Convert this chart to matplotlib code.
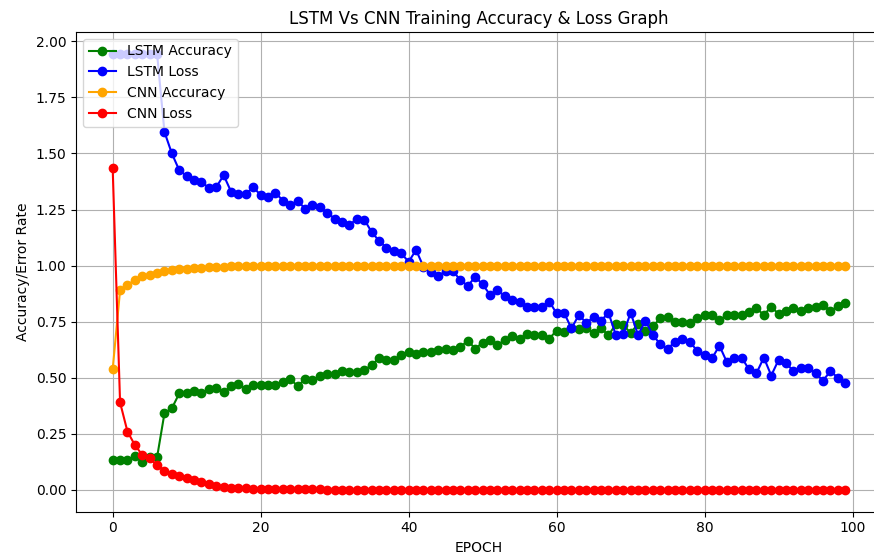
import matplotlib
matplotlib.use("Agg")
import matplotlib.pyplot as plt

# ── Values (epochs 0..99) ───────────────────────────────────────────────────
epochs = list(range(100))

lstm_acc = [
    0.134, 0.134, 0.134, 0.151, 0.126, 0.147, 0.145, 0.342, 0.364, 0.430,
    0.430, 0.440, 0.430, 0.450, 0.455, 0.435, 0.462, 0.470, 0.450, 0.466,
    0.466, 0.466, 0.466, 0.480, 0.494, 0.463, 0.494, 0.490, 0.508, 0.517,
    0.517, 0.530, 0.525, 0.525, 0.534, 0.557, 0.587, 0.580, 0.580, 0.600,
    0.616, 0.606, 0.616, 0.616, 0.624, 0.627, 0.624, 0.638, 0.665, 0.630,
    0.656, 0.670, 0.646, 0.668, 0.686, 0.675, 0.693, 0.690, 0.690, 0.675,
    0.710, 0.705, 0.720, 0.716, 0.720, 0.700, 0.720, 0.690, 0.738, 0.735,
    0.700, 0.740, 0.710, 0.730, 0.765, 0.770, 0.750, 0.750, 0.745, 0.765,
    0.780, 0.780, 0.757, 0.780, 0.780, 0.780, 0.794, 0.810, 0.780, 0.817,
    0.784, 0.797, 0.810, 0.797, 0.810, 0.817, 0.824, 0.797, 0.820, 0.834,
]

lstm_loss = [
    1.945, 1.945, 1.945, 1.945, 1.945, 1.945, 1.945, 1.596, 1.500, 1.425,
    1.400, 1.380, 1.373, 1.347, 1.350, 1.403, 1.330, 1.320, 1.320, 1.350,
    1.314, 1.305, 1.325, 1.290, 1.270, 1.290, 1.253, 1.270, 1.260, 1.235,
    1.210, 1.195, 1.180, 1.210, 1.205, 1.150, 1.110, 1.080, 1.066, 1.055,
    1.017, 1.070, 0.995, 0.970, 0.955, 0.975, 0.975, 0.935, 0.910, 0.950,
    0.916, 0.870, 0.890, 0.864, 0.846, 0.840, 0.817, 0.817, 0.817, 0.840,
    0.787, 0.790, 0.720, 0.780, 0.745, 0.770, 0.754, 0.790, 0.690, 0.695,
    0.790, 0.690, 0.754, 0.690, 0.650, 0.630, 0.660, 0.675, 0.660, 0.620,
    0.600, 0.587, 0.643, 0.570, 0.590, 0.590, 0.537, 0.520, 0.590, 0.510,
    0.580, 0.565, 0.530, 0.545, 0.545, 0.520, 0.487, 0.530, 0.500, 0.475,
]

cnn_acc = [
    0.537, 0.890, 0.915, 0.935, 0.955, 0.960, 0.965, 0.975, 0.982, 0.985,
    0.986, 0.988, 0.990, 0.993, 0.995, 0.996, 0.998, 0.998, 0.999, 0.999,
    1.000, 1.000, 1.000, 1.000, 1.000, 1.000, 1.000, 1.000, 1.000, 1.000,
    1.000, 1.000, 1.000, 1.000, 1.000, 1.000, 1.000, 1.000, 1.000, 1.000,
    1.000, 1.000, 1.000, 1.000, 1.000, 1.000, 1.000, 1.000, 1.000, 1.000,
    1.000, 1.000, 1.000, 1.000, 1.000, 1.000, 1.000, 1.000, 1.000, 1.000,
    1.000, 1.000, 1.000, 1.000, 1.000, 1.000, 1.000, 1.000, 1.000, 1.000,
    1.000, 1.000, 1.000, 1.000, 1.000, 1.000, 1.000, 1.000, 1.000, 1.000,
    1.000, 1.000, 1.000, 1.000, 1.000, 1.000, 1.000, 1.000, 1.000, 1.000,
    1.000, 1.000, 1.000, 1.000, 1.000, 1.000, 1.000, 1.000, 1.000, 1.000,
]

cnn_loss = [
    1.435, 0.390, 0.260, 0.200, 0.156, 0.140, 0.110, 0.086, 0.072, 0.060,
    0.053, 0.042, 0.033, 0.025, 0.018, 0.015, 0.010, 0.008, 0.007, 0.006,
    0.005, 0.005, 0.004, 0.004, 0.003, 0.003, 0.002, 0.002, 0.002, 0.001,
    0.001, 0.001, 0.001, 0.001, 0.001, 0.001, 0.001, 0.001, 0.001, 0.001,
    0.001, 0.001, 0.001, 0.001, 0.001, 0.001, 0.001, 0.001, 0.001, 0.001,
    0.000, 0.000, 0.000, 0.000, 0.000, 0.000, 0.000, 0.000, 0.000, 0.000,
    0.000, 0.000, 0.000, 0.000, 0.000, 0.000, 0.000, 0.000, 0.000, 0.000,
    0.000, 0.000, 0.000, 0.000, 0.000, 0.000, 0.000, 0.000, 0.000, 0.000,
    0.000, 0.000, 0.000, 0.000, 0.000, 0.000, 0.000, 0.000, 0.000, 0.000,
    0.000, 0.000, 0.000, 0.000, 0.000, 0.000, 0.000, 0.000, 0.000, 0.000,
]

# ── Plot ────────────────────────────────────────────────────────────────────
fig, ax = plt.subplots(figsize=(8.74, 5.59), dpi=100)
# the source image is cropped on the right, so the axes run past the edge
ax.set_position([0.087, 0.0846, 1.009 - 0.087, 0.943 - 0.0846])

ax.plot(epochs, lstm_acc, marker="o", color="green", label="LSTM Accuracy")
ax.plot(epochs, lstm_loss, marker="o", color="blue", label="LSTM Loss")
ax.plot(epochs, cnn_acc, marker="o", color="orange", label="CNN Accuracy")
ax.plot(epochs, cnn_loss, marker="o", color="red", label="CNN Loss")

ax.set_title("LSTM Vs CNN Training Accuracy & Loss Graph")
ax.set_xlabel("EPOCH")
ax.set_ylabel("Accuracy/Error Rate")
ax.grid(True)
ax.legend(loc="upper left")

plt.savefig("out.png")
plt.close()
